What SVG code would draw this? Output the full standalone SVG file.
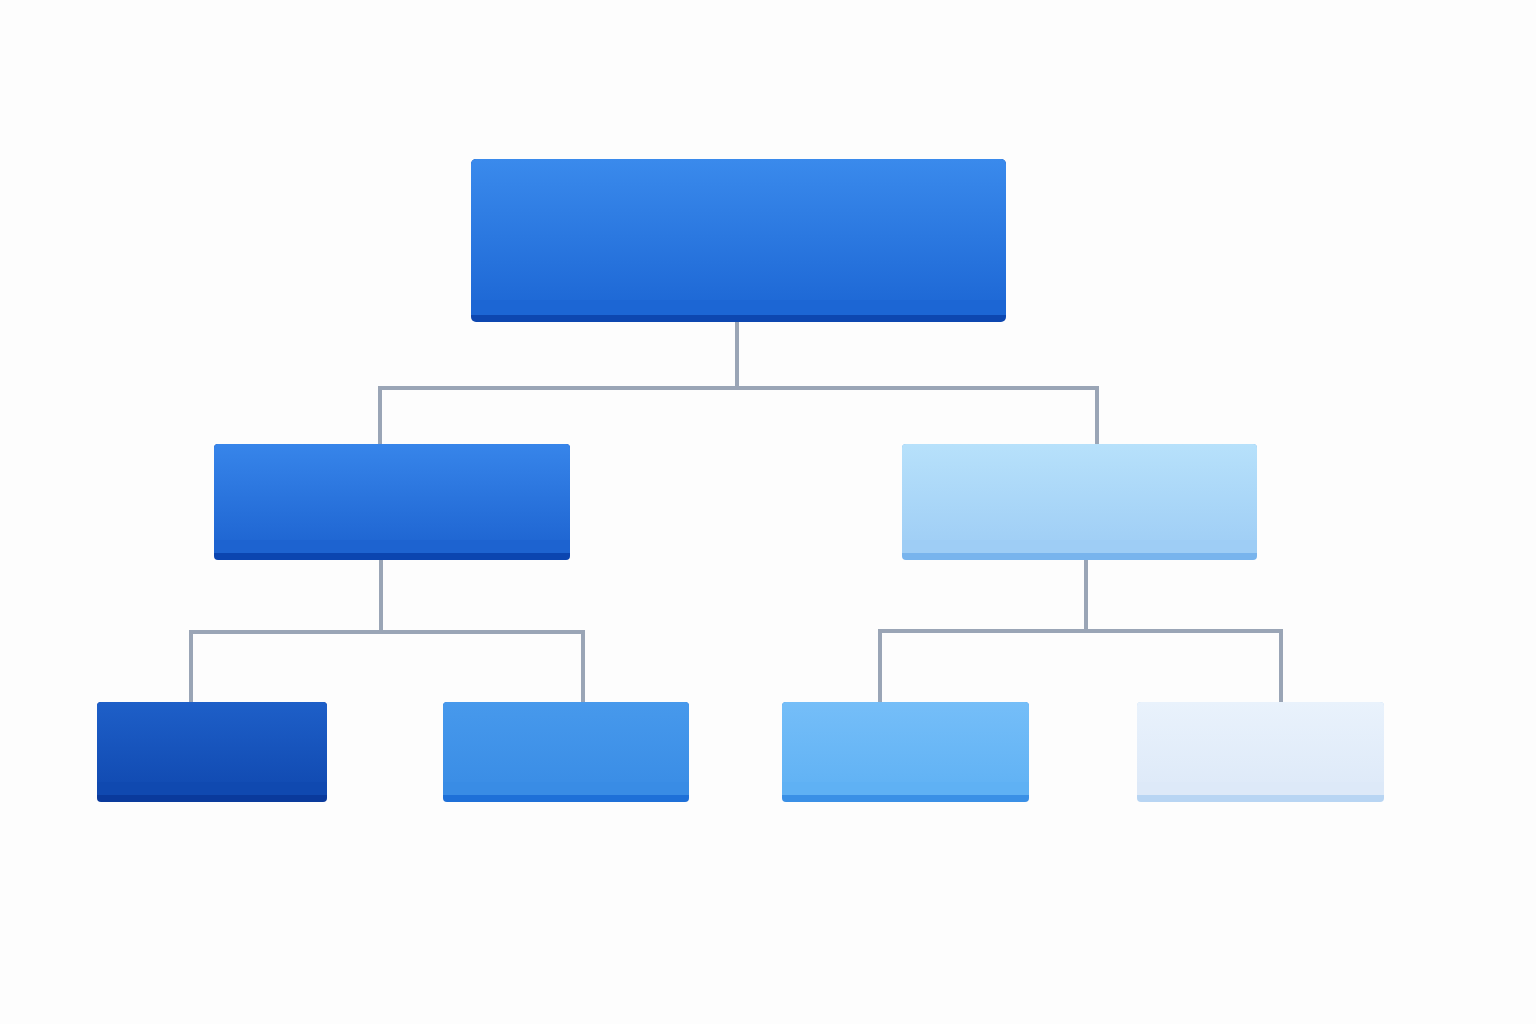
<svg xmlns="http://www.w3.org/2000/svg" width="1536" height="1024" viewBox="0 0 1536 1024">
<defs>
<linearGradient id="gRoot" x1="0" y1="0" x2="0" y2="1"><stop offset="0" stop-color="#3a8aec"/><stop offset="1" stop-color="#1c66d4"/></linearGradient>
<linearGradient id="gMidL" x1="0" y1="0" x2="0" y2="1"><stop offset="0" stop-color="#3785ea"/><stop offset="1" stop-color="#1d63d0"/></linearGradient>
<linearGradient id="gMidR" x1="0" y1="0" x2="0" y2="1"><stop offset="0" stop-color="#b7e1fb"/><stop offset="1" stop-color="#9ecdf5"/></linearGradient>
<linearGradient id="gB1" x1="0" y1="0" x2="0" y2="1"><stop offset="0" stop-color="#1e5fc8"/><stop offset="1" stop-color="#1049b0"/></linearGradient>
<linearGradient id="gB2" x1="0" y1="0" x2="0" y2="1"><stop offset="0" stop-color="#4799ec"/><stop offset="1" stop-color="#398ce5"/></linearGradient>
<linearGradient id="gB3" x1="0" y1="0" x2="0" y2="1"><stop offset="0" stop-color="#75bef8"/><stop offset="1" stop-color="#5fb1f4"/></linearGradient>
<linearGradient id="gB4" x1="0" y1="0" x2="0" y2="1"><stop offset="0" stop-color="#e9f2fc"/><stop offset="1" stop-color="#dde9f8"/></linearGradient>
</defs>
<style>
.conn{fill:none;stroke:#9aa5b6;stroke-width:4;stroke-linejoin:miter}
</style>
<rect width="1536" height="1024" fill="#fdfdfd"/>
<g id="connectors">
<path class="conn" d="M737 322 V388 M380 444 V388 H1097 V444"/>
<path class="conn" d="M381 560 V632 M191 702 V632 H583 V702"/>
<path class="conn" d="M1086 560 V631 M880 702 V631 H1281 V702"/>
</g>
<g id="root">
<rect x="471" y="159" width="535" height="163" rx="5" fill="#0d47b0"/>
<rect x="471" y="159" width="535" height="156" rx="5" fill="url(#gRoot)"/>
<rect x="471" y="300" width="535" height="15" fill="#1c66d4"/>
</g>
<g id="mid-left">
<rect x="214" y="444" width="356" height="116" rx="4" fill="#0b45b0"/>
<rect x="214" y="444" width="356" height="109" rx="4" fill="url(#gMidL)"/>
<rect x="214" y="540" width="356" height="13" fill="#1d63d0"/>
</g>
<g id="mid-right">
<rect x="902" y="444" width="355" height="116" rx="4" fill="#78b4ed"/>
<rect x="902" y="444" width="355" height="109" rx="4" fill="url(#gMidR)"/>
<rect x="902" y="540" width="355" height="13" fill="#9ecdf5"/>
</g>
<g id="bottom-1">
<rect x="97" y="702" width="230" height="100" rx="4" fill="#0a3a9c"/>
<rect x="97" y="702" width="230" height="93" rx="4" fill="url(#gB1)"/>
<rect x="97" y="782" width="230" height="13" fill="#1049b0"/>
</g>
<g id="bottom-2">
<rect x="443" y="702" width="246" height="100" rx="4" fill="#1e70d8"/>
<rect x="443" y="702" width="246" height="93" rx="4" fill="url(#gB2)"/>
<rect x="443" y="782" width="246" height="13" fill="#398ce5"/>
</g>
<g id="bottom-3">
<rect x="782" y="702" width="247" height="100" rx="4" fill="#3a90e6"/>
<rect x="782" y="702" width="247" height="93" rx="4" fill="url(#gB3)"/>
<rect x="782" y="782" width="247" height="13" fill="#5fb1f4"/>
</g>
<g id="bottom-4">
<rect x="1137" y="702" width="247" height="100" rx="4" fill="#b8d5f3"/>
<rect x="1137" y="702" width="247" height="93" rx="4" fill="url(#gB4)"/>
<rect x="1137" y="782" width="247" height="13" fill="#dde9f8"/>
</g>
</svg>
